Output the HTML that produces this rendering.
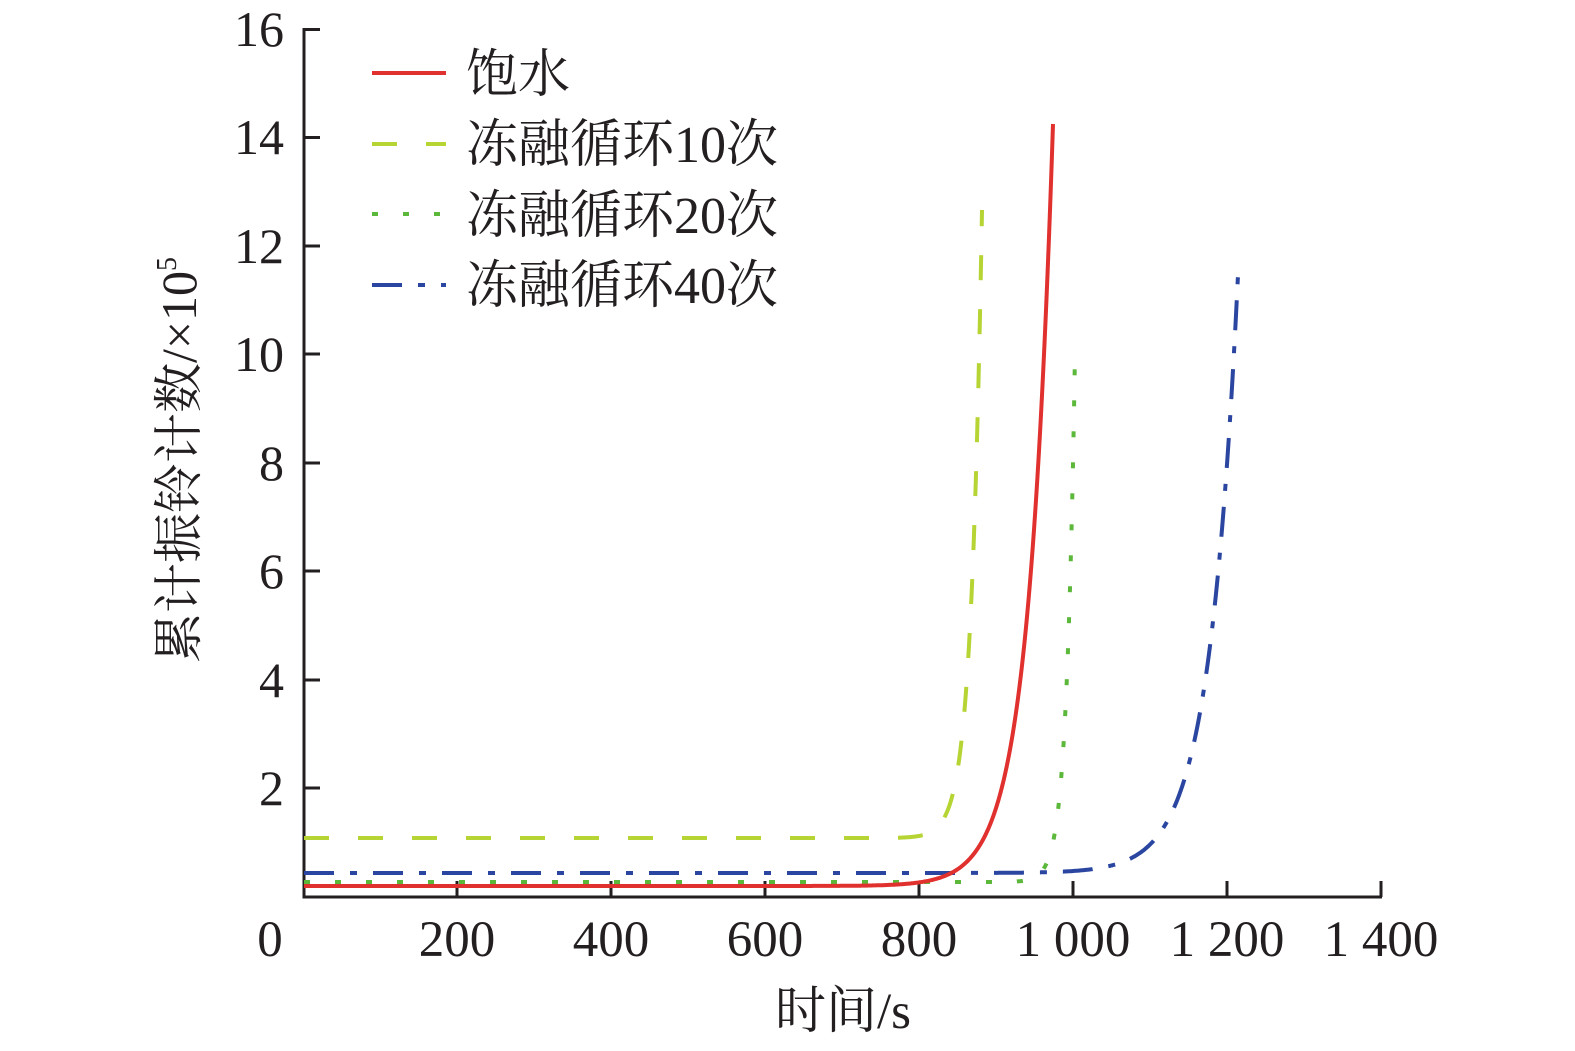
<!DOCTYPE html>
<html><head><meta charset="utf-8"><style>
html,body{margin:0;padding:0;background:#fff;}
svg{display:block;}
text{font-family:"Liberation Serif","Noto Serif CJK SC",serif;fill:#231f20;}
</style></head><body>
<svg id="s" width="1575" height="1051" viewBox="0 0 1575 1051" xmlns="http://www.w3.org/2000/svg" font-family="'Liberation Serif','Noto Serif CJK SC',serif">
<g stroke="#231f20" stroke-width="3" fill="none">
<path d="M304,28 V897 H1382"/>
<path d="M304,29.5 H320 M304,137.5 H320 M304,246 H320 M304,354 H320 M304,463 H320 M304,571 H320 M304,680 H320 M304,788 H320"/>
<path d="M457,897 V881 M611,897 V881 M765,897 V881 M919,897 V881 M1073,897 V881 M1227,897 V881 M1381,897 V881"/>
</g>
<g font-size="50" text-anchor="end">
<text x="284" y="46">16</text><text x="284" y="154">14</text><text x="284" y="263">12</text><text x="284" y="371">10</text>
<text x="284" y="480">8</text><text x="284" y="588">6</text><text x="284" y="697">4</text><text x="284" y="805">2</text>
</g>
<g font-size="51" text-anchor="middle">
<text x="270" y="956">0</text><text x="457" y="956">200</text><text x="611" y="956">400</text><text x="765" y="956">600</text>
<text x="919" y="956">800</text><text x="1073" y="956">1 000</text><text x="1227" y="956">1 200</text><text x="1381" y="956">1 400</text>
<text x="843" y="1028">时间/s</text>
</g>
<text font-size="50" text-anchor="middle" transform="translate(196,460) rotate(-90)">累计振铃计数/×10<tspan font-size="28" dy="-20">5</tspan></text>
<g font-size="52">
<text x="466" y="92">饱水</text>
<text x="466" y="162">冻融循环10次</text>
<text x="466" y="233">冻融循环20次</text>
<text x="466" y="303">冻融循环40次</text>
</g>
<g stroke-width="4" fill="none">
<path d="M372,73 H446" stroke="#e0312f"/>
<path d="M372,144 H446" stroke="#b6d433" stroke-dasharray="25,29"/>
<path d="M372,214 H446" stroke="#5cb83a" stroke-dasharray="6,25"/>
<path d="M372,285 H446" stroke="#2a46a0" stroke-dasharray="30,16,7,16"/>
</g>
<g id="curves" stroke-width="4" fill="none"></g>
</svg>
<script>
function mk(y0,x1,rise,k,col,dash,xstart){
  var d="M304,"+y0;var x;
  for(x=xstart;x<=x1+0.001;x+=0.5){var y=y0-rise*Math.exp((x-x1)/k);d+=" L"+x.toFixed(1)+","+y.toFixed(1);}
  var p=document.createElementNS("http://www.w3.org/2000/svg","path");
  p.setAttribute("d",d);p.setAttribute("stroke",col);if(dash)p.setAttribute("stroke-dasharray",dash);
  document.getElementById("curves").appendChild(p);
}
mk(873,1238,598,28.9,"#2a46a0","30,16,7,16",950);
mk(882,1075,530,8.5,"#5cb83a","6,25",950);
mk(838,982,628,11,"#b6d433","25,29",850);
mk(886,1053,762,25,"#e0312f",null,800);
</script>
</body></html>
